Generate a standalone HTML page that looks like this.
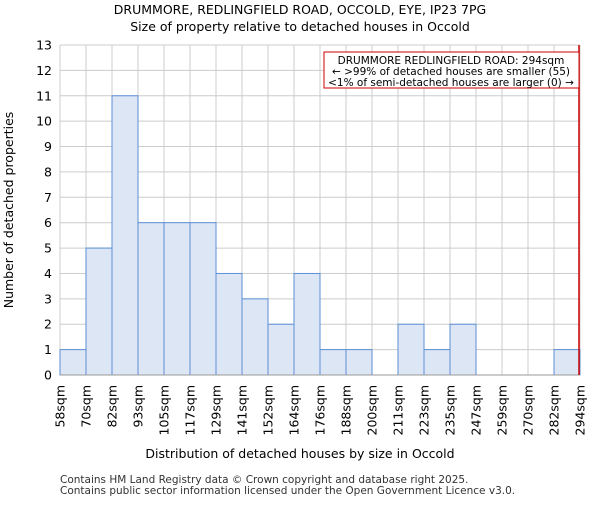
<!DOCTYPE html>
<html><head><meta charset="utf-8"><style>body{margin:0;background:#fff}svg{font-family:"DejaVu Sans","Liberation Sans",sans-serif}</style></head>
<body>
<svg id="c" width="600" height="500" xmlns="http://www.w3.org/2000/svg">
<text x="300" y="14" text-anchor="middle" font-size="12.5">DRUMMORE, REDLINGFIELD ROAD, OCCOLD, EYE, IP23 7PG</text>
<text x="300" y="31" text-anchor="middle" font-size="12.5">Size of property relative to detached houses in Occold</text>
<g id="grid"></g><g id="bars"></g><g id="axes"></g>
<text x="300" y="458" text-anchor="middle" font-size="12.5">Distribution of detached houses by size in Occold</text>
<text transform="translate(13,210) rotate(-90)" text-anchor="middle" font-size="12.5">Number of detached properties</text>
<text x="60" y="483" font-size="10.5" fill="#333">Contains HM Land Registry data © Crown copyright and database right 2025.</text>
<text x="60" y="494" font-size="10.5" fill="#333">Contains public sector information licensed under the Open Government Licence v3.0.</text>
</svg>
<script>
const categories=["58sqm","70sqm","82sqm","93sqm","105sqm","117sqm","129sqm","141sqm","152sqm","164sqm","176sqm","188sqm","200sqm","211sqm","223sqm","235sqm","247sqm","259sqm","270sqm","282sqm","294sqm"];
const counts=[1,5,11,6,6,6,4,3,2,4,1,1,0,2,1,2,0,0,0,1];
const yTicks=[0,1,2,3,4,5,6,7,8,9,10,11,12,13];
const markerIndex=20;
const L=60,R=580,T=45,B=375,yMax=13;
const NS="http://www.w3.org/2000/svg";
const bw=(R-L)/counts.length;
const x=i=>L+i*bw, y=v=>B-(v/yMax)*(B-T);
function mk(p,t,a){const e=document.createElementNS(NS,t);for(const k in a)e.setAttribute(k,a[k]);document.getElementById(p).appendChild(e);return e;}
yTicks.forEach(v=>{
 const g=mk("grid","line",{x1:L,x2:R,y1:y(v),y2:y(v),stroke:"#ccc","stroke-width":1});
 
 
 const t=mk("axes","text",{x:L-8,y:y(v)+4.5,"text-anchor":"end","font-size":12.5});
 t.textContent=v;
 
 
});
categories.forEach((c,i)=>{
 const g=mk("grid","line",{x1:x(i),x2:x(i),y1:T,y2:B,stroke:"#ccc","stroke-width":1});
 
 
 const t=mk("axes","text",{transform:`translate(${x(i)+4.5},${B+10}) rotate(-90)`,"text-anchor":"end","font-size":12.5});
 t.textContent=c;
 
 
});
counts.forEach((v,i)=>{
 if(v<=0)return;
 const r=mk("bars","rect",{x:x(i),y:y(v),width:bw,height:B-y(v),fill:"#dce6f4",stroke:"#5b8fd6","stroke-width":1});
 
 
});
const ax=mk("axes","line",{x1:L,x2:R,y1:B,y2:B,stroke:"#999"});


const m=mk("axes","line",{x1:x(markerIndex)-1,x2:x(markerIndex)-1,y1:T,y2:B,stroke:"#c00","stroke-width":1.5});


const box=mk("axes","rect",{x:324,y:52,width:255,height:36,fill:"#fff",stroke:"#c00","stroke-width":1});


["DRUMMORE REDLINGFIELD ROAD: 294sqm","← >99% of detached houses are smaller (55)","<1% of semi-detached houses are larger (0) →"].forEach((s,k)=>{
 const t=mk("axes","text",{x:451,y:64+k*11,"text-anchor":"middle","font-size":10.5});
 t.textContent=s;
 
 
});
</script>
</body></html>
